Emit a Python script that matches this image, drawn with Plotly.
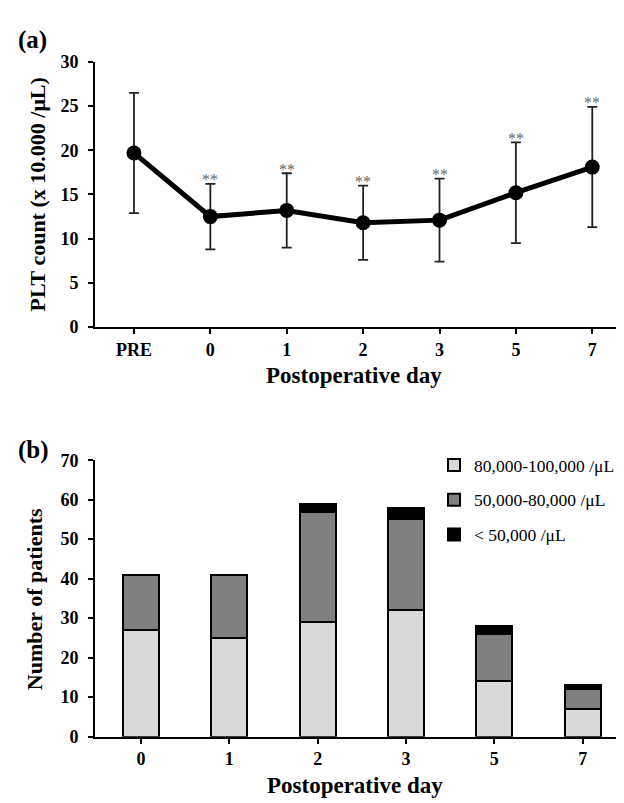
import plotly.graph_objects as go

# ---- Panel (a) data ----
days_a = ["PRE", "0", "1", "2", "3", "5", "7"]
plt_mean = [19.7, 12.5, 13.2, 11.8, 12.1, 15.2, 18.1]
plt_sd = [6.8, 3.7, 4.2, 4.2, 4.7, 5.7, 6.8]
signif = ["", "**", "**", "**", "**", "**", "**"]

# ---- Panel (b) data ----
days_b = ["0", "1", "2", "3", "5", "7"]
n_80_100 = [27, 25, 29, 32, 14, 7]
n_50_80 = [14, 16, 28, 23, 12, 5]
n_lt50 = [0, 0, 2, 3, 2, 1]
series_names = ["80,000-100,000 /μL", "50,000-80,000 /μL", "< 50,000 /μL"]
series_colors = ["#d9d9d9", "#7f7f7f", "#000000"]

FONT = "Liberation Serif"
W, H = 624, 803

fig = go.Figure()

# Panel (a): line with error bars
fig.add_trace(go.Scatter(
    x=days_a, y=plt_mean, mode="lines+markers",
    line=dict(color="black", width=5),
    marker=dict(color="black", size=15),
    error_y=dict(type="data", array=plt_sd, visible=True,
                 color="#222222", thickness=1.8, width=5),
    xaxis="x", yaxis="y", showlegend=False, hoverinfo="skip",
))

# Panel (b): stacked bars
for vals, name, col in zip([n_80_100, n_50_80, n_lt50], series_names, series_colors):
    fig.add_trace(go.Bar(
        x=days_b, y=vals, name=name, legendgroup=name,
        marker=dict(color=col, line=dict(color="black", width=2)),
        width=0.41, xaxis="x2", yaxis="y2",
    ))

tickfont = dict(family=FONT, size=18, color="black", weight="bold")
axis_common = dict(
    showline=True, linecolor="black", linewidth=2,
    ticks="outside", tickcolor="black", tickwidth=2, ticklen=5,
    showgrid=False, zeroline=False, tickfont=tickfont,
)

fig.update_layout(
    width=W, height=H,
    margin=dict(l=0, r=0, t=0, b=0),
    paper_bgcolor="white", plot_bgcolor="white",
    barmode="stack",
    font=dict(family=FONT),
    xaxis=dict(domain=[87 / W, 1.0], anchor="y", type="category",
               range=[-0.51, 6.52], ticklabelstandoff=0, **axis_common),
    yaxis=dict(domain=[(H - 317) / H, (H - 45) / H], anchor="x",
               range=[0, 30], tickvals=[0, 5, 10, 15, 20, 25, 30],
               ticklabelstandoff=6, **axis_common),
    xaxis2=dict(domain=[87 / W, 618 / W], anchor="y2", type="category",
                range=[-0.52, 5.49], ticklabelstandoff=0, **axis_common),
    yaxis2=dict(domain=[(H - 737) / H, (H - 453.5) / H], anchor="x2",
                range=[0, 70], tickvals=[0, 10, 20, 30, 40, 50, 60, 70],
                ticklabelstandoff=6, **axis_common),
    legend=dict(x=426 / W, y=(H - 440) / H, xanchor="left", yanchor="top",
                traceorder="grouped", tracegroupgap=9,
                entrywidth=150, entrywidthmode="pixels",
                font=dict(family=FONT, size=17.5, color="black"),
                bgcolor="rgba(0,0,0,0)"),
    showlegend=True,
)

ann = [
    dict(text="(a)", x=8 / W, y=(H - 23) / H, xanchor="left", yanchor="middle",
         font=dict(family=FONT, size=25, color="black", weight="bold")),
    dict(text="(b)", x=8 / W, y=(H - 443) / H, xanchor="left", yanchor="middle",
         font=dict(family=FONT, size=25, color="black", weight="bold")),
    dict(text="Postoperative day", x=346 / W, y=(H - 367) / H, xanchor="center", yanchor="middle",
         font=dict(family=FONT, size=23, color="black", weight="bold")),
    dict(text="Postoperative day", x=347 / W, y=(H - 787) / H, xanchor="center", yanchor="middle",
         font=dict(family=FONT, size=23, color="black", weight="bold")),
    dict(text="PLT count (x 10.000 /μL)", x=29 / W, y=(H - 181) / H, xanchor="center", yanchor="middle",
         textangle=-90, font=dict(family=FONT, size=22, color="black", weight="bold")),
    dict(text="Number of patients", x=26 / W, y=(H - 596) / H, xanchor="center", yanchor="middle",
         textangle=-90, font=dict(family=FONT, size=22, color="black", weight="bold")),
]
for a in ann:
    a.update(xref="paper", yref="paper", showarrow=False)

# significance markers above the error bars (category index on x, data value on y)
for i, (m, s, t) in enumerate(zip(plt_mean, plt_sd, signif)):
    if t:
        ann.append(dict(text=t, x=i, y=m + s, xref="x", yref="y", showarrow=False,
                        xanchor="center", yanchor="middle", yshift=4,
                        font=dict(family=FONT, size=16, color="#666666")))

fig.update_layout(annotations=ann)

fig.write_html("out.html")
